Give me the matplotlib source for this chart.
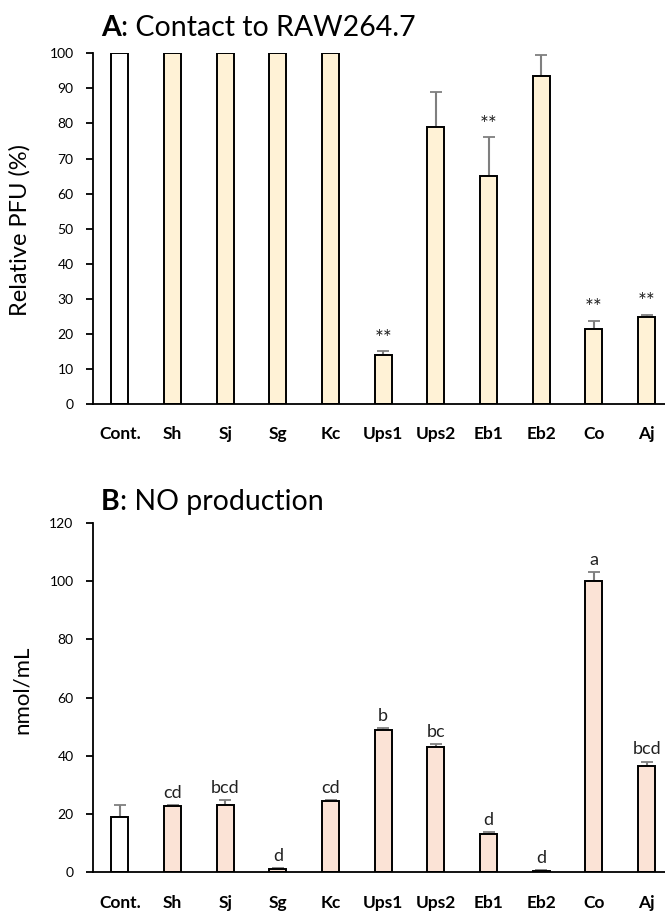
#!/usr/bin/env python3
"""
plot.py

Two stacked bar panels: relative PFU after contact to RAW264.7 (A)
and NO production (B), with upper error bars and significance marks.
"""

import numpy as np
import matplotlib
matplotlib.use("Agg")
import matplotlib.pyplot as plt

# ----------------------------------------------------------------------
# DATA
# ----------------------------------------------------------------------
samples = ["Cont.", "Sh", "Sj", "Sg", "Kc", "Ups1", "Ups2", "Eb1", "Eb2", "Co", "Aj"]

pfu_mean = [100, 100, 100, 100, 100, 14.0, 79.0, 65.0, 93.5, 21.5, 24.8]
pfu_err  = [0, 0, 0, 0, 0, 1.0, 10.0, 11.0, 6.0, 2.3, 0.6]
pfu_mark = ["", "", "", "", "", "**", "", "**", "", "**", "**"]

no_mean = [19.0, 22.7, 23.0, 1.2, 24.5, 48.8, 43.0, 13.2, 0.5, 100.0, 36.5]
no_err  = [4.0, 0.3, 1.8, 0.2, 0.2, 0.7, 1.0, 0.5, 0.2, 3.2, 1.5]
no_mark = ["", "cd", "bcd", "d", "cd", "b", "bc", "d", "d", "a", "bcd"]

# ----------------------------------------------------------------------
# SETTINGS
# ----------------------------------------------------------------------
FONT       = ["Lato", "DejaVu Sans"]
FILL_A     = "#FFF2D6"
FILL_B     = "#FBE3D6"
ERR_COLOR  = "#7F7F7F"
BAR_WIDTH  = 0.32

plt.rcParams["font.family"] = FONT


def draw_panel(ax, means, errs, marks, fill, ymax, ystep, mark_size, mark_gap):
    x = np.arange(len(samples))
    colors = ["white"] + [fill] * (len(samples) - 1)
    ax.errorbar(x, means, yerr=[np.zeros(len(errs)), errs], fmt="none",
                ecolor=ERR_COLOR, elinewidth=1.5, capsize=4, capthick=1.3,
                zorder=1)
    ax.bar(x, means, width=BAR_WIDTH, color=colors, edgecolor="black",
           linewidth=1.4, zorder=2)
    for xi, m, e, s in zip(x, means, errs, marks):
        if s:
            ax.text(xi, m + e + mark_gap, s, ha="center", va="bottom",
                    fontsize=mark_size, color="#222222")

    ax.set_xlim(-0.51, 10.35)
    ax.set_ylim(0, ymax)
    ax.set_yticks(np.arange(0, ymax + 1, ystep))
    ax.set_xticks(x)
    ax.set_xticklabels(samples, fontsize=12.5, fontweight="bold")
    ax.tick_params(axis="x", length=0, pad=16)
    ax.tick_params(axis="y", direction="out", length=5, width=1.3,
                   labelsize=10, pad=9, colors="black")
    for side in ("top", "right"):
        ax.spines[side].set_visible(False)
    ax.spines["left"].set_linewidth(1.3)
    ax.spines["bottom"].set_linewidth(1.3)


def panel_title(fig, ax, x, y, letter, rest):
    # bold panel letter followed by the regular-weight caption
    t = fig.text(x, y, letter, fontsize=20.5, fontweight="bold",
                 ha="left", va="baseline")
    ax.annotate(rest, xy=(1, 0), xycoords=t, fontsize=20.5,
                ha="left", va="bottom", annotation_clip=False)


def main():
    W, H = 665, 913
    fig = plt.figure(figsize=(W / 100, H / 100), dpi=100)

    left = 93 / W
    width = 1 - left

    ax_a = fig.add_axes([left, (H - 404) / H, width, (404 - 53.3) / H])
    draw_panel(ax_a, pfu_mean, pfu_err, pfu_mark, FILL_A, 100, 10,
               mark_size=15, mark_gap=0.8)

    ax_b = fig.add_axes([left, (H - 872.3) / H, width, (872.3 - 523) / H])
    draw_panel(ax_b, no_mean, no_err, no_mark, FILL_B, 120, 20,
               mark_size=13, mark_gap=1.5)

    panel_title(fig, ax_a, 101 / W, (H - 36) / H, "A", ": Contact to RAW264.7")
    panel_title(fig, ax_b, 101 / W, (H - 510) / H, "B", ": NO production")

    fig.text(20 / W, (H - 230) / H, "Relative PFU (%)", rotation=90,
             fontsize=17, ha="center", va="center")
    fig.text(22 / W, (H - 690) / H, "nmol/mL", rotation=90,
             fontsize=16, ha="center", va="center")

    fig.savefig("out.png", dpi=100)


if __name__ == "__main__":
    main()
